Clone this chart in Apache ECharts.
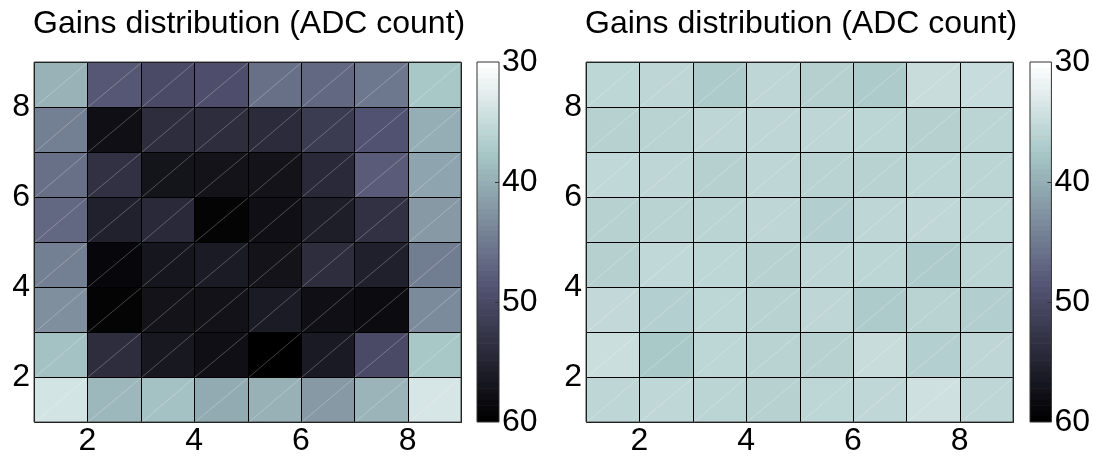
<!DOCTYPE html>
<html><head><meta charset="utf-8">
<script src="https://cdn.jsdelivr.net/npm/echarts@6/dist/echarts.min.js"></script>
<style>html,body{margin:0;padding:0;background:#fff}#c{width:1093px;height:459px}</style>
</head><body><div id="c"></div>
<script>
const titleText = 'Gains distribution (ADC count)';
const axisTickLabels = [2, 4, 6, 8];
const colorTicks = [30, 40, 50, 60];
const colorMin = 30, colorMax = 60;
// rows listed from top (y = 8) to bottom (y = 1), columns x = 1..8
const gainsLeft = [
  [39.5, 48.5, 50.0, 49.5, 46.0, 46.8, 45.3, 37.5],
  [44.5, 58.0, 54.0, 54.0, 54.3, 52.0, 49.0, 40.0],
  [46.0, 53.5, 57.3, 57.5, 57.5, 54.5, 48.0, 41.0],
  [46.8, 55.5, 54.5, 59.5, 58.0, 56.0, 53.5, 42.0],
  [44.5, 59.0, 57.0, 56.3, 57.5, 54.0, 55.7, 44.8],
  [43.0, 59.5, 57.5, 57.6, 56.3, 58.0, 58.5, 43.3],
  [38.0, 54.0, 56.8, 58.0, 60.0, 56.5, 50.0, 37.5],
  [33.7, 39.0, 38.0, 40.3, 39.7, 42.0, 39.3, 33.5]
];
const gainsRight = [
  [35.6, 35.5, 37.0, 35.5, 36.3, 37.0, 34.7, 34.8],
  [36.2, 36.0, 35.5, 35.5, 35.5, 35.7, 36.3, 35.8],
  [35.3, 35.5, 36.3, 35.5, 36.0, 36.1, 35.7, 35.8],
  [36.2, 36.0, 35.9, 35.5, 36.5, 35.5, 35.4, 35.6],
  [36.3, 35.3, 35.6, 36.2, 35.5, 35.7, 37.0, 35.8],
  [35.1, 36.4, 35.6, 36.1, 35.5, 37.0, 36.0, 36.6],
  [34.5, 37.4, 35.6, 36.0, 36.2, 34.7, 36.4, 35.5],
  [35.5, 35.4, 35.8, 36.2, 35.6, 35.4, 34.2, 35.5]
];

function toCells(rows) {
  const out = [];
  rows.forEach((row, r) => row.forEach((v, c) => out.push([c + 1, rows.length - r, v])));
  return out;
}
// MATLAB "bone" colormap, reversed: 30 -> white, 60 -> black
function bone(t) {
  const cl = v => Math.min(1, Math.max(0, v));
  const r = (7 * t + cl((t - 0.75) / 0.25)) / 8;
  const g = (7 * t + cl((t - 0.375) / 0.375)) / 8;
  const b = (7 * t + cl(t / 0.375)) / 8;
  const h = x => Math.round(x * 255).toString(16).padStart(2, '0');
  return '#' + h(r) + h(g) + h(b);
}
const palette = [];
for (let i = 0; i < 64; i++) palette.push(bone(1 - i / 63));

const FONT = 'Liberation Sans, Arial, Helvetica, sans-serif';
const plots = [
  { left: 34, cbLeft: 477, titleLeft: 33, data: gainsLeft },
  { left: 586, cbLeft: 1030, titleLeft: 585, data: gainsRight }
];
const W = 427, H = 360, TOP = 62, CBW = 22;

function renderCell(params, api) {
  const x = api.value(0), y = api.value(1);
  const p0 = api.coord([x, y]);
  const p1 = api.coord([x + 1, y + 1]);
  const x0 = Math.round(p0[0]) + 0.5, x1 = Math.round(p1[0]) + 0.5;
  const y0 = Math.round(p0[1]) + 0.5, y1 = Math.round(p1[1]) + 0.5;
  return {
    type: 'group',
    children: [
      { type: 'rect', shape: { x: x0, y: y1, width: x1 - x0, height: y0 - y1 },
        style: { fill: api.visual('color'), stroke: null } },
      { type: 'line', shape: { x1: x0, y1: y0, x2: x1, y2: y1 },
        style: { stroke: 'rgba(255,255,255,0.25)', lineWidth: 1 } },
      { type: 'rect', shape: { x: x0, y: y1, width: x1 - x0, height: y0 - y1 },
        style: { fill: null, stroke: '#000', lineWidth: 1 } }
    ]
  };
}
const bandStep = (colorMax - colorMin) / palette.length;
function renderBand(params, api) {
  const k = api.value(0);
  const a = api.coord([0, colorMin + k * bandStep]);
  const b = api.coord([1, colorMin + (k + 1) * bandStep]);
  return { type: 'rect',
    shape: { x: a[0], y: Math.min(a[1], b[1]), width: b[0] - a[0], height: Math.abs(b[1] - a[1]) + 0.6 },
    style: { fill: palette[k], stroke: null } };
}
// inner tick marks of the colour bar at the labelled values (except the ends)
function renderTick(params, api) {
  const v = api.value(0);
  const p = api.coord([1, v]);
  const y = Math.round(p[1]) + 0.5;
  return { type: 'line', shape: { x1: p[0] - 4, y1: y, x2: p[0], y2: y },
    style: { stroke: '#333', lineWidth: 1 } };
}

const option = {
  animation: false,
  backgroundColor: '#fff',
  title: plots.map(p => ({
    text: titleText, left: p.titleLeft, top: 8, padding: 0,
    textStyle: { fontSize: 32, fontWeight: 'normal', color: '#000', fontFamily: FONT }
  })),
  grid: [],
  xAxis: [],
  yAxis: [],
  visualMap: [],
  series: []
};

plots.forEach((p, i) => {
  option.grid.push({ left: p.left, top: TOP, width: W, height: H, show: true,
    borderColor: '#444', borderWidth: 1, backgroundColor: 'transparent', z: 5 });
  option.grid.push({ left: p.cbLeft, top: TOP, width: CBW, height: H, show: true,
    borderColor: '#333', borderWidth: 1, backgroundColor: 'transparent', z: 10 });
  const labelFmt = v => axisTickLabels.includes(v) ? String(v) : '';
  option.xAxis.push({ gridIndex: 2 * i, type: 'value', min: 1, max: 9, interval: 1,
    axisLine: { show: false }, axisTick: { show: false }, splitLine: { show: false },
    axisLabel: { formatter: labelFmt, fontSize: 32, color: '#000', fontFamily: FONT, margin: 3 } });
  option.yAxis.push({ gridIndex: 2 * i, type: 'value', min: 1, max: 9, interval: 1,
    axisLine: { show: false }, axisTick: { show: false }, splitLine: { show: false },
    axisLabel: { formatter: labelFmt, fontSize: 32, color: '#000', fontFamily: FONT, margin: 4 } });
  option.xAxis.push({ gridIndex: 2 * i + 1, type: 'value', show: false, min: 0, max: 1 });
  option.yAxis.push({ gridIndex: 2 * i + 1, type: 'value', position: 'right', inverse: true,
    min: colorMin, max: colorMax, interval: 10,
    axisLine: { show: false }, splitLine: { show: false }, axisTick: { show: false },
    axisLabel: { showMinLabel: true, showMaxLabel: true, fontSize: 32, color: '#000',
      fontFamily: FONT, margin: 3, formatter: v => colorTicks.includes(v) ? String(v) : '' } });
  option.visualMap.push({ type: 'continuous', show: false, seriesIndex: 3 * i, dimension: 2,
    min: colorMin, max: colorMax, inRange: { color: palette } });
  option.series.push({ type: 'custom', xAxisIndex: 2 * i, yAxisIndex: 2 * i,
    data: toCells(p.data), encode: { x: 0, y: 1 }, renderItem: renderCell, silent: true });
  option.series.push({ type: 'custom', xAxisIndex: 2 * i + 1, yAxisIndex: 2 * i + 1,
    data: palette.map((c, k) => [k]), encode: { x: -1, y: -1 }, renderItem: renderBand,
    silent: true, clip: true });
  option.series.push({ type: 'custom', xAxisIndex: 2 * i + 1, yAxisIndex: 2 * i + 1,
    data: colorTicks.slice(1, -1).map(v => [v]), encode: { x: -1, y: -1 }, renderItem: renderTick,
    silent: true, z: 20 });
});

const chart = echarts.init(document.getElementById('c'), null, { renderer: 'canvas' });
chart.setOption(option);
</script>
</body></html>
